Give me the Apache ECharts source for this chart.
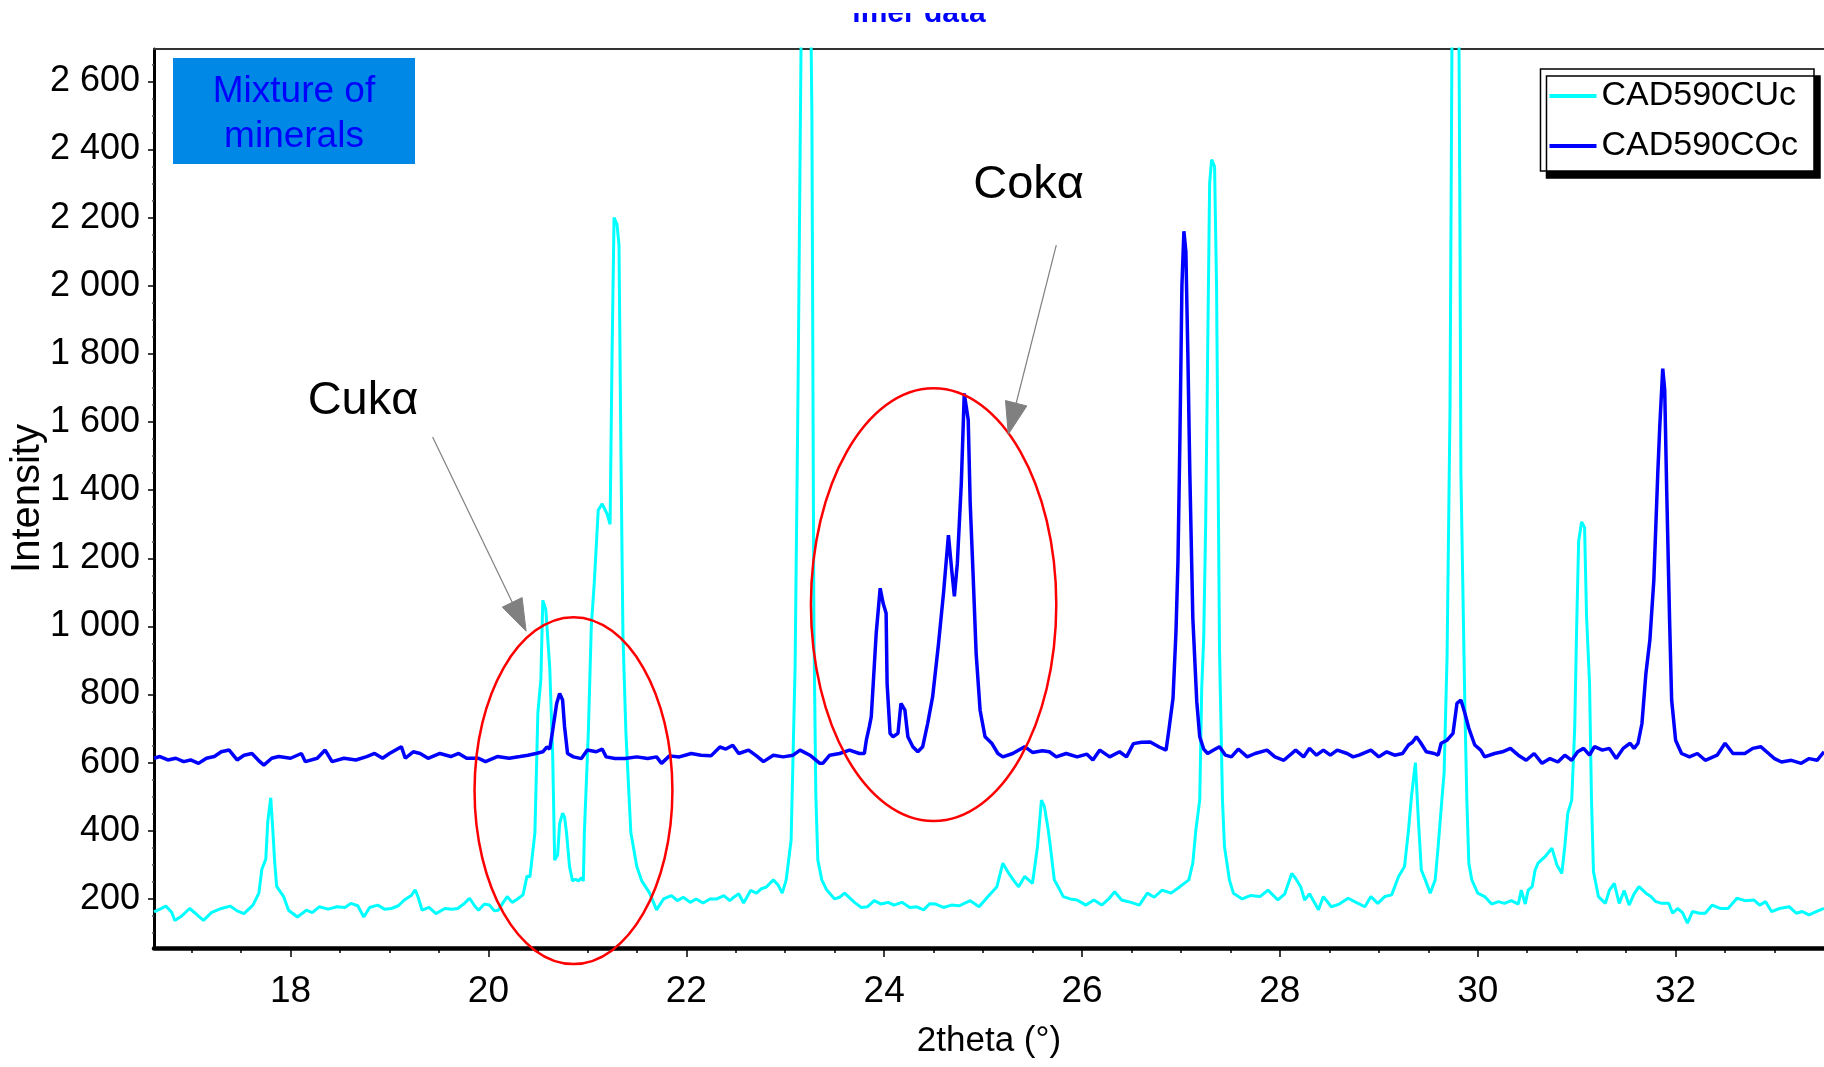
<!DOCTYPE html>
<html>
<head>
<meta charset="utf-8">
<title>CAD590 XRD patterns</title>
<script src="https://cdn.jsdelivr.net/npm/echarts@6/dist/echarts.min.js"></script>
<style>
  html, body { margin: 0; padding: 0; background: #fff; }
  #chart { width: 1824px; height: 1067px; }
</style>
</head>
<body>
<div id="chart"></div>
<script>
// scan: [2theta, intensity]
const cuScan = [
  [16.62,162],[16.68,170],[16.74,179],[16.80,160],[16.83,137],[16.90,150],[16.98,172],[17.05,155],[17.12,137],[17.20,160],
  [17.30,172],[17.39,179],[17.46,165],[17.53,157],[17.62,182],[17.68,217],[17.71,287],[17.75,317],[17.77,427],[17.80,497],
  [17.82,407],[17.84,307],[17.86,237],[17.93,207],[17.98,167],[18.07,147],[18.16,167],[18.22,160],[18.29,177],[18.38,170],
  [18.47,177],[18.55,175],[18.61,187],[18.68,180],[18.74,147],[18.80,175],[18.88,182],[18.95,170],[19.02,172],[19.09,180],
  [19.15,197],[19.22,210],[19.26,227],[19.29,205],[19.33,167],[19.40,175],[19.47,157],[19.56,172],[19.63,170],[19.69,172],
  [19.75,185],[19.81,202],[19.86,180],[19.90,167],[19.96,185],[20.01,182],[20.06,165],[20.10,167],[20.15,190],[20.19,207],
  [20.24,190],[20.28,197],[20.35,212],[20.39,267],[20.42,265],[20.47,394],[20.50,746],[20.53,843],[20.55,1077],[20.58,1050],
  [20.62,880],[20.65,620],[20.67,314],[20.70,330],[20.72,420],[20.75,452],[20.77,440],[20.79,394],[20.82,295],[20.85,253],
  [20.88,258],[20.91,253],[20.94,262],[20.96,253],[20.97,394],[21.01,687],[21.04,1000],[21.07,1127],[21.11,1341],[21.15,1360],
  [21.20,1330],[21.23,1300],[21.25,1800],[21.27,2200],[21.30,2180],[21.32,2120],[21.34,1500],[21.36,974],[21.39,687],[21.44,394],
  [21.50,295],[21.55,253],[21.63,217],[21.70,168],[21.77,200],[21.85,210],[21.91,195],[21.97,205],[22.04,190],[22.10,200],
  [22.17,188],[22.24,200],[22.31,200],[22.38,210],[22.44,195],[22.48,205],[22.53,215],[22.58,188],[22.65,225],[22.71,217],
  [22.76,230],[22.81,235],[22.88,256],[22.93,240],[22.97,217],[23.01,256],[23.06,373],[23.10,880],[23.13,1700],[23.16,2700],
  [23.19,3300],[23.24,3300],[23.27,2500],[23.29,1000],[23.31,500],[23.33,314],[23.37,256],[23.42,226],[23.50,200],[23.55,205],
  [23.60,217],[23.70,190],[23.77,175],[23.83,177],[23.90,195],[23.97,185],[24.04,190],[24.10,182],[24.18,190],[24.26,175],
  [24.33,177],[24.40,168],[24.46,186],[24.52,185],[24.60,175],[24.68,182],[24.76,180],[24.87,195],[24.96,177],[25.05,207],
  [25.14,236],[25.20,305],[25.26,275],[25.32,250],[25.36,236],[25.42,266],[25.50,246],[25.55,354],[25.59,490],[25.62,471],
  [25.66,400],[25.68,354],[25.72,256],[25.77,230],[25.81,207],[25.88,200],[25.95,197],[26.04,182],[26.12,197],[26.20,182],
  [26.27,200],[26.33,221],[26.40,197],[26.47,192],[26.58,182],[26.66,217],[26.73,205],[26.81,226],[26.90,217],[26.99,236],
  [27.08,256],[27.12,305],[27.15,400],[27.19,490],[27.21,817],[27.23,964],[27.25,1300],[27.27,1800],[27.29,2300],[27.31,2370],
  [27.34,2350],[27.36,2000],[27.38,1300],[27.39,930],[27.42,490],[27.44,354],[27.49,256],[27.53,217],[27.62,200],[27.70,210],
  [27.80,207],[27.88,226],[27.98,197],[28.05,215],[28.12,275],[28.16,260],[28.21,236],[28.25,197],[28.30,215],[28.39,168],
  [28.44,207],[28.52,177],[28.60,185],[28.69,202],[28.77,190],[28.86,177],[28.92,207],[28.99,187],[29.06,207],[29.13,212],
  [29.20,266],[29.26,295],[29.30,402],[29.33,500],[29.37,600],[29.40,432],[29.43,285],[29.47,256],[29.52,217],[29.57,256],
  [29.60,354],[29.64,500],[29.66,569],[29.69,911],[29.72,1644],[29.75,3300],[29.80,3300],[29.82,2200],[29.83,1450],[29.85,1107],
  [29.87,765],[29.89,490],[29.91,305],[29.94,256],[30.00,217],[30.07,207],[30.14,185],[30.21,192],[30.27,187],[30.34,195],
  [30.41,185],[30.44,226],[30.48,185],[30.51,226],[30.55,236],[30.58,285],[30.61,305],[30.68,324],[30.75,349],[30.80,300],
  [30.85,275],[30.88,354],[30.91,451],[30.95,490],[30.98,700],[31.00,1000],[31.02,1250],[31.05,1307],[31.08,1290],[31.10,1029],
  [31.13,834],[31.15,490],[31.17,280],[31.22,207],[31.29,187],[31.33,225],[31.38,246],[31.43,187],[31.48,225],[31.53,182],
  [31.58,215],[31.63,236],[31.70,217],[31.75,207],[31.80,192],[31.86,187],[31.93,187],[31.97,158],[32.02,172],[32.07,160],
  [32.12,129],[32.17,163],[32.24,158],[32.30,158],[32.37,182],[32.45,172],[32.53,172],[32.62,202],[32.70,195],[32.79,197],
  [32.85,182],[32.91,192],[32.97,163],[33.05,172],[33.15,177],[33.22,158],[33.28,163],[33.35,153],[33.42,163],[33.50,172]
]

const coScan = [
  [16.62,613],[16.68,618],[16.76,608],[16.84,613],[16.92,603],[16.99,608],[17.07,598],[17.15,613],[17.23,618],[17.30,632],
  [17.38,637],[17.46,608],[17.53,622],[17.61,627],[17.69,603],[17.73,593],[17.81,613],[17.88,618],[18.00,613],[18.11,627],
  [18.15,603],[18.27,613],[18.35,637],[18.42,603],[18.54,613],[18.66,608],[18.77,618],[18.85,627],[18.93,613],[19.00,627],
  [19.12,647],[19.16,613],[19.24,632],[19.31,627],[19.39,613],[19.51,627],[19.62,618],[19.70,627],[19.78,613],[19.90,613],
  [19.97,603],[20.09,618],[20.21,613],[20.32,618],[20.40,622],[20.48,627],[20.55,632],[20.59,646],[20.62,640],[20.65,695],
  [20.69,774],[20.72,803],[20.75,784],[20.77,705],[20.80,627],[20.86,617],[20.94,612],[20.96,617],[21.00,637],[21.09,632],
  [21.15,640],[21.19,617],[21.28,612],[21.38,612],[21.50,617],[21.61,612],[21.70,617],[21.75,598],[21.83,620],[21.93,617],
  [22.05,627],[22.15,622],[22.25,620],[22.34,646],[22.40,640],[22.47,651],[22.53,627],[22.63,637],[22.71,620],[22.78,603],
  [22.88,622],[22.98,617],[23.08,622],[23.15,637],[23.25,622],[23.35,598],[23.38,598],[23.45,622],[23.55,627],[23.65,637],
  [23.75,627],[23.80,627],[23.82,666],[23.85,705],[23.87,735],[23.89,833],[23.92,980],[23.96,1112],[23.99,1068],[24.02,1039],
  [24.03,833],[24.06,686],[24.09,676],[24.14,686],[24.17,774],[24.21,754],[24.24,676],[24.29,647],[24.34,632],[24.39,647],
  [24.44,715],[24.49,793],[24.55,950],[24.60,1097],[24.65,1268],[24.68,1175],[24.71,1088],[24.74,1185],[24.78,1420],[24.81,1684],
  [24.85,1606],[24.87,1361],[24.90,1146],[24.93,921],[24.97,754],[25.02,676],[25.09,656],[25.15,627],[25.20,617],[25.30,627],
  [25.42,647],[25.50,630],[25.60,635],[25.67,632],[25.74,617],[25.84,627],[25.95,617],[26.05,625],[26.11,608],[26.18,637],
  [26.28,617],[26.38,632],[26.45,617],[26.52,656],[26.60,660],[26.69,661],[26.78,646],[26.85,637],[26.88,700],[26.92,789],
  [26.95,985],[26.97,1190],[26.99,1557],[27.01,2000],[27.03,2160],[27.05,2100],[27.07,1800],[27.09,1449],[27.12,1026],[27.16,779],
  [27.19,676],[27.23,640],[27.27,627],[27.33,637],[27.39,647],[27.45,622],[27.51,617],[27.58,640],[27.67,617],[27.75,627],
  [27.87,637],[27.95,617],[28.04,607],[28.16,637],[28.24,617],[28.30,642],[28.37,622],[28.44,637],[28.51,622],[28.58,637],
  [28.68,627],[28.74,617],[28.80,622],[28.92,637],[29.00,617],[29.08,632],[29.16,622],[29.24,627],[29.30,652],[29.34,660],
  [29.38,676],[29.42,660],[29.48,632],[29.56,627],[29.60,622],[29.63,657],[29.69,666],[29.75,686],[29.79,774],[29.83,784],
  [29.87,745],[29.91,701],[29.97,652],[30.03,637],[30.07,617],[30.17,627],[30.25,632],[30.33,642],[30.41,622],[30.49,607],
  [30.57,627],[30.65,598],[30.73,612],[30.81,602],[30.88,622],[30.95,607],[31.01,632],[31.07,642],[31.13,622],[31.18,647],
  [31.26,637],[31.33,642],[31.40,612],[31.47,642],[31.54,657],[31.58,642],[31.62,657],[31.66,715],[31.70,862],[31.74,960],
  [31.78,1136],[31.82,1450],[31.84,1587],[31.87,1757],[31.89,1694],[31.91,1400],[31.94,1009],[31.96,784],[32.00,666],[32.06,627],
  [32.14,617],[32.22,627],[32.30,607],[32.42,622],[32.50,657],[32.58,627],[32.70,627],[32.78,642],[32.86,647],[32.94,627],
  [33.00,612],[33.07,602],[33.17,607],[33.27,598],[33.35,612],[33.43,607],[33.50,632]
]

const seriesNames = ['CAD590CUc', 'CAD590COc']

const xMajorTicks = [18, 20, 22, 24, 26, 28, 30, 32]
const xMinorTicks = [17, 17.5, 18.5, 19, 19.5, 20.5, 21, 21.5, 22.5, 23, 23.5, 24.5, 25, 25.5,
  26.5, 27, 27.5, 28.5, 29, 29.5, 30.5, 31, 31.5, 32.5, 33]
const yMajorTicks = [200, 400, 600, 800, 1000, 1200, 1400, 1600, 1800, 2000, 2200, 2400, 2600]
const yMinorTicks = [100, 150, 250, 300, 350, 450, 500, 550, 650, 700, 750, 850, 900, 950,
  1050, 1100, 1150, 1250, 1300, 1350, 1450, 1500, 1550, 1650, 1700, 1750, 1850, 1900, 1950,
  2050, 2100, 2150, 2250, 2300, 2350, 2450, 2500, 2550, 2650]

// annotations, in data units
const ringCenters = [[20.86, 518], [24.5, 1064]]
const ringRadii = [[1.0, 509], [1.24, 635]]
const arrowStarts = [[19.436, 1556], [25.74, 2119]]
const arrowTips = [[20.381, 986], [25.255, 1564]]
const peakLabels = ['Cukα', 'Cokα']
const peakLabelPos = [[18.733, 1661], [25.46, 2295]]

const X_MIN = 16.62, X_MAX = 33.5, Y_MIN = 56, Y_MAX = 2695
const SANS = "'Liberation Sans', Arial, sans-serif"

const fmtThousands = v => v >= 1000 ? Math.floor(v / 1000) + ' ' + String(v % 1000).padStart(3, '0') : String(v)

const chart = echarts.init(document.getElementById('chart'))

const baseX = { type: 'value', min: X_MIN, max: X_MAX, splitLine: { show: false } }
const baseY = { type: 'value', min: Y_MIN, max: Y_MAX, splitLine: { show: false } }

chart.setOption({
  animation: false,
  backgroundColor: '#fff',
  grid: { left: 154, top: 49, right: 0, bottom: 119, containLabel: false, outerBoundsMode: 'none' },
  legend: {
    orient: 'vertical',
    right: 10,
    top: 69,
    data: seriesNames,
    icon: 'rect',
    itemWidth: 47,
    itemHeight: 4,
    itemGap: 16,
    padding: [10, 16, 8, 9],
    backgroundColor: '#fff',
    borderColor: '#000',
    borderWidth: 1.5,
    borderRadius: 0,
    shadowColor: '#000',
    shadowBlur: 0,
    shadowOffsetX: 6,
    shadowOffsetY: 7,
    textStyle: { fontSize: 34, fontFamily: SANS, color: '#000' },
  },
  xAxis: [
    {
      ...baseX,
      position: 'bottom',
      name: '2theta (°)',
      nameLocation: 'middle',
      nameGap: 76,
      nameMoveOverlap: false,
      nameTextStyle: { fontSize: 35, fontFamily: SANS, color: '#000' },
      axisLine: { show: true, lineStyle: { color: '#000', width: 4.5 } },
      axisTick: { show: true, customValues: xMajorTicks, length: 9, lineStyle: { color: '#000', width: 1.5 } },
      axisLabel: { customValues: xMajorTicks, fontSize: 37, fontFamily: SANS, color: '#000', margin: 25 },
    },
    {
      ...baseX,
      position: 'bottom',
      axisLine: { show: false },
      axisTick: { show: true, customValues: xMinorTicks, length: 5, lineStyle: { color: '#000', width: 1.5 } },
      axisLabel: { show: false },
    },
    {
      ...baseX,
      position: 'top',
      axisLine: { show: true, lineStyle: { color: '#333', width: 2 } },
      axisTick: { show: false },
      axisLabel: { show: false },
    },
  ],
  yAxis: [
    {
      ...baseY,
      position: 'left',
      name: 'Intensity',
      nameLocation: 'middle',
      nameRotate: 90,
      nameGap: 106,
      nameMoveOverlap: false,
      nameTextStyle: { fontSize: 40, fontFamily: SANS, color: '#000' },
      axisLine: { show: true, lineStyle: { color: '#000', width: 3 } },
      axisTick: { show: true, customValues: yMajorTicks, length: 6, lineStyle: { color: '#000', width: 1.5 } },
      axisLabel: { customValues: yMajorTicks, formatter: fmtThousands, fontSize: 36, fontFamily: SANS, color: '#000', margin: 14 },
    },
    {
      ...baseY,
      position: 'left',
      axisLine: { show: false },
      axisTick: { show: true, customValues: yMinorTicks, length: 2, lineStyle: { color: '#555', width: 1.5 } },
      axisLabel: { show: false },
    },
  ],
  series: [
    {
      name: seriesNames[0],
      type: 'line',
      data: cuScan,
      showSymbol: false,
      clip: true,
      color: '#00FFFF',
      lineStyle: { color: '#00FFFF', width: 3 },
      z: 2,
    },
    {
      name: seriesNames[1],
      type: 'line',
      data: coScan,
      showSymbol: false,
      clip: true,
      color: '#0000FF',
      lineStyle: { color: '#0000FF', width: 3.5 },
      z: 3,
    },
  ],
})

// annotation overlay placed through the axes
const px = p => chart.convertToPixel({ xAxisIndex: 0, yAxisIndex: 0 }, p)
const graphics = []

ringCenters.forEach((c, i) => {
  const pc = px(c)
  const pe = px([c[0] + ringRadii[i][0], c[1] + ringRadii[i][1]])
  graphics.push({
    type: 'ellipse', z: 100,
    shape: { cx: pc[0], cy: pc[1], rx: pe[0] - pc[0], ry: pc[1] - pe[1] },
    style: { fill: null, stroke: '#FF0000', lineWidth: 2.5 },
  })
})

arrowStarts.forEach((s, i) => {
  const ps = px(s)
  const pt = px(arrowTips[i])
  const dx = pt[0] - ps[0], dy = pt[1] - ps[1]
  const len = Math.sqrt(dx * dx + dy * dy)
  const ux = dx / len, uy = dy / len
  const headLen = 32, halfW = 11
  const bx = pt[0] - ux * headLen, by = pt[1] - uy * headLen
  graphics.push({
    type: 'line', z: 100,
    shape: { x1: ps[0], y1: ps[1], x2: bx, y2: by },
    style: { stroke: '#808080', lineWidth: 1.2 },
  })
  graphics.push({
    type: 'polygon', z: 100,
    shape: { points: [[pt[0], pt[1]], [bx - uy * halfW, by + ux * halfW], [bx + uy * halfW, by - ux * halfW]] },
    style: { fill: '#808080', stroke: '#808080', lineWidth: 1 },
  })
})

peakLabels.forEach((t, i) => {
  const p = px(peakLabelPos[i])
  graphics.push({
    type: 'text', z: 100, x: p[0], y: p[1],
    style: { text: t, fill: '#000', font: '47px ' + SANS, align: 'center', verticalAlign: 'middle' },
  })
})

// "Mixture of minerals" tag
graphics.push({
  type: 'rect', z: 100,
  shape: { x: 173, y: 58, width: 242, height: 106 },
  style: { fill: '#0088E6' },
})
graphics.push({
  type: 'text', z: 101, x: 294, y: 114,
  style: { text: 'Mixture of\nminerals', fill: '#0000FF', font: '37px ' + SANS, lineHeight: 45, align: 'center', verticalAlign: 'middle' },
})

// cut-off title at the top edge
graphics.push({
  type: 'text', z: 100, x: 919, y: 29,
  style: { text: 'imer data', fill: '#0000FF', font: 'bold 30px ' + SANS, align: 'center', verticalAlign: 'bottom' },
})
graphics.push({
  type: 'rect', z: 102,
  shape: { x: 820, y: 0, width: 200, height: 13 },
  style: { fill: '#fff' },
})

chart.setOption({ graphic: graphics })
</script>
</body>
</html>
